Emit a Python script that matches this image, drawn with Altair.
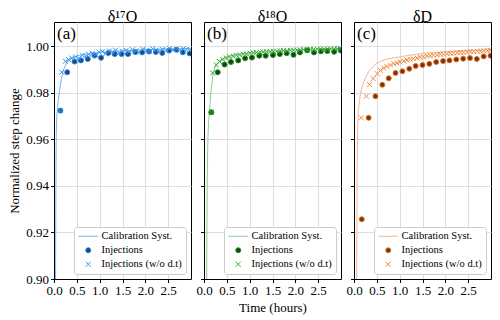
import altair as alt
import pandas as pd

FONT = "Liberation Serif"
SERIES = ["Calibration Syst.", "Injections", "Injections (w/o d.t)"]
TITLES = ["δ¹⁷O", "δ¹⁸O", "δD"]
TAGS = ["(a)", "(b)", "(c)"]
X_TICKS = [0.0, 0.5, 1.0, 1.5, 2.0, 2.5]
Y_TICKS = [0.90, 0.92, 0.94, 0.96, 0.98, 1.00]

LINE_COLORS = ["#78b8f0", "#8ccc8c", "#f4b690"]
EDGE_COLORS = ["#2f86d8", "#2a8a2a", "#e0742a"]
FILL_COLORS = ["#17457e", "#0b4a0b", "#7a3208"]
CROSS_COLORS = ["#3a98ee", "#3aaa3a", "#ef8a45"]

# Calibration system curves
cal_t_a = [0.030, 0.035, 0.040, 0.045, 0.050, 0.06, 0.08, 0.10, 0.13, 0.16, 0.20, 0.25, 0.30, 0.40, 0.50, 0.70, 1.0, 1.5, 2.0, 2.5, 3.0]
cal_v_a = [0.880, 0.905, 0.930, 0.950, 0.962, 0.970, 0.9745, 0.978, 0.982, 0.9857, 0.9895, 0.9920, 0.9935, 0.9950, 0.9958, 0.9967, 0.9975, 0.9982, 0.9986, 0.9989, 0.9991]
cal_t_b = [0.055, 0.06, 0.065, 0.07, 0.08, 0.09, 0.10, 0.12, 0.15, 0.20, 0.25, 0.30, 0.40, 0.50, 0.70, 1.0, 1.5, 2.0, 2.5, 3.0]
cal_v_b = [0.880, 0.905, 0.925, 0.940, 0.955, 0.963, 0.967, 0.972, 0.980, 0.9886, 0.9915, 0.9930, 0.9947, 0.9956, 0.9964, 0.9972, 0.9980, 0.9985, 0.9989, 0.9992]
cal_t_c = [0.055, 0.060, 0.065, 0.07, 0.08, 0.10, 0.13, 0.16, 0.20, 0.25, 0.33, 0.40, 0.50, 0.70, 1.0, 1.25, 1.5, 2.0, 2.5, 3.0]
cal_v_c = [0.880, 0.905, 0.930, 0.950, 0.965, 0.973, 0.978, 0.9814, 0.984, 0.9865, 0.9895, 0.991, 0.9928, 0.9945, 0.9955, 0.9963, 0.9970, 0.9977, 0.9982, 0.9986]

# Injections
inj_t_a = [0.14, 0.29, 0.45, 0.59, 0.74, 0.89, 1.03, 1.19, 1.33, 1.48, 1.62, 1.78, 1.93, 2.08, 2.23, 2.37, 2.52, 2.68, 2.82, 2.97]
inj_v_a = [0.9724, 0.9889, 0.9935, 0.9940, 0.9946, 0.9961, 0.9951, 0.9972, 0.9967, 0.9967, 0.9967, 0.9976, 0.9974, 0.9978, 0.9976, 0.9972, 0.9982, 0.9986, 0.9975, 0.9970]
inj_t_b = [0.16, 0.30, 0.45, 0.59, 0.75, 0.90, 1.05, 1.21, 1.35, 1.51, 1.66, 1.81, 1.96, 2.10, 2.26, 2.41, 2.56, 2.70, 2.85, 2.99]
inj_v_b = [0.9717, 0.9889, 0.9922, 0.9933, 0.9940, 0.9949, 0.9952, 0.9960, 0.9960, 0.9963, 0.9967, 0.9971, 0.9964, 0.9974, 0.9983, 0.9974, 0.9979, 0.9980, 0.9977, 0.9983]
inj_t_c = [0.17, 0.32, 0.47, 0.62, 0.76, 0.91, 1.06, 1.21, 1.35, 1.50, 1.65, 1.80, 1.95, 2.09, 2.24, 2.39, 2.54, 2.69, 2.84, 2.99]
inj_v_c = [0.9257, 0.9693, 0.9786, 0.9835, 0.9863, 0.9886, 0.9893, 0.9904, 0.9916, 0.9920, 0.9925, 0.9933, 0.9937, 0.9940, 0.9944, 0.9947, 0.9950, 0.9946, 0.9957, 0.9960]

# Injections without dead time
wo_t_a = [0.14, 0.17, 0.25, 0.32, 0.39, 0.47, 0.54, 0.62, 0.69, 0.76, 0.84, 0.91, 0.99, 1.06, 1.13, 1.21, 1.28, 1.35, 1.43, 1.50,
          1.58, 1.65, 1.72, 1.80, 1.87, 1.94, 2.02, 2.09, 2.16, 2.24, 2.31, 2.38, 2.46, 2.53, 2.61, 2.68, 2.75, 2.83, 2.90, 2.97]
wo_v_a = [0.9724, 0.9889, 0.9936, 0.9943, 0.9950, 0.9955, 0.9948, 0.9962, 0.9958, 0.9966, 0.9970, 0.9964, 0.9975, 0.9978, 0.9968, 0.9980, 0.9976, 0.9984, 0.9972, 0.9979,
          0.9983, 0.9977, 0.9986, 0.9981, 0.9975, 0.9988, 0.9983, 0.9979, 0.9990, 0.9984, 0.9980, 0.9987, 0.9983, 0.9991, 0.9985, 0.9988, 0.9982, 0.9990, 0.9986, 0.9984]
wo_t_b = [0.16, 0.19, 0.27, 0.34, 0.41, 0.49, 0.56, 0.64, 0.71, 0.78, 0.86, 0.93, 1.01, 1.08, 1.15, 1.23, 1.30, 1.37, 1.45, 1.52,
          1.60, 1.67, 1.74, 1.82, 1.89, 1.96, 2.04, 2.11, 2.18, 2.26, 2.33, 2.40, 2.48, 2.55, 2.63, 2.70, 2.77, 2.85, 2.92, 2.99]
wo_v_b = [0.9717, 0.9886, 0.9920, 0.9935, 0.9944, 0.9950, 0.9955, 0.9958, 0.9962, 0.9964, 0.9967, 0.9968, 0.9971, 0.9972, 0.9974, 0.9975, 0.9976, 0.9978, 0.9977, 0.9979,
          0.9980, 0.9981, 0.9982, 0.9981, 0.9983, 0.9984, 0.9984, 0.9985, 0.9986, 0.9985, 0.9987, 0.9987, 0.9988, 0.9988, 0.9989, 0.9988, 0.9989, 0.9990, 0.9990, 0.9990]
wo_t_c = [0.16, 0.27, 0.34, 0.42, 0.51, 0.58, 0.65, 0.72, 0.80, 0.87, 0.94, 1.01, 1.09, 1.16, 1.23, 1.30, 1.38, 1.45, 1.52, 1.60,
          1.67, 1.74, 1.82, 1.89, 1.96, 2.04, 2.11, 2.18, 2.26, 2.33, 2.40, 2.48, 2.55, 2.62, 2.70, 2.77, 2.84, 2.92, 2.98]
wo_v_c = [0.9693, 0.9786, 0.9836, 0.9862, 0.9883, 0.9897, 0.9907, 0.9914, 0.9920, 0.9926, 0.9929, 0.9933, 0.9937, 0.9942, 0.9944, 0.9947, 0.9950, 0.9953, 0.9955, 0.9958,
          0.9960, 0.9962, 0.9964, 0.9966, 0.9967, 0.9969, 0.9970, 0.9971, 0.9973, 0.9974, 0.9975, 0.9976, 0.9977, 0.9978, 0.9979, 0.9980, 0.9981, 0.9982, 0.9983]

CAL = [(cal_t_a, cal_v_a), (cal_t_b, cal_v_b), (cal_t_c, cal_v_c)]
INJ = [(inj_t_a, inj_v_a), (inj_t_b, inj_v_b), (inj_t_c, inj_v_c)]
WO = [(wo_t_a, wo_v_a), (wo_t_b, wo_v_b), (wo_t_c, wo_v_c)]

LINE_PATH = "M-4,0L4,0"
X_PATH = "M-1,-1L1,1M-1,1L1,-1"
W, H = 137, 257


def panel(i):
    cal = pd.DataFrame({"t": CAL[i][0], "v": CAL[i][1], "series": SERIES[0]})
    pts = pd.concat([
        pd.DataFrame({"t": INJ[i][0], "v": INJ[i][1], "series": SERIES[1]}),
        pd.DataFrame({"t": WO[i][0], "v": WO[i][1], "series": SERIES[2]}),
    ])
    xs = alt.Scale(domain=[0, 3.0], nice=False)
    ys = alt.Scale(domain=[0.90, 1.0105], nice=False, zero=False)
    xaxis = alt.Axis(values=X_TICKS, format=".1f", title="Time (hours)" if i == 1 else None,
                     titlePadding=4, labelOverlap=False, labelFlush=False)
    yaxis = alt.Axis(values=Y_TICKS, format=".2f", labels=(i == 0),
                     title="Normalized step change" if i == 0 else None, titlePadding=4)
    leg = alt.Legend(title=None, orient="bottom-right", offset=5, fillColor="white",
                     strokeColor="#cccccc", cornerRadius=3, padding=4,
                     labelFont=FONT, labelFontSize=10.5, labelColor="black",
                     rowPadding=3, symbolOffset=5, labelOffset=8,
                     symbolSize=25, symbolStrokeWidth=1, labelLimit=200)
    stroke_s = alt.Scale(domain=SERIES, range=[LINE_COLORS[i], EDGE_COLORS[i], CROSS_COLORS[i]])
    fill_s = alt.Scale(domain=SERIES, range=["transparent", FILL_COLORS[i], "transparent"])
    shape_s = alt.Scale(domain=SERIES, range=[LINE_PATH, "circle", X_PATH])
    x = alt.X("t:Q", scale=xs, axis=xaxis)
    y = alt.Y("v:Q", scale=ys, axis=yaxis)
    line = alt.Chart(cal).mark_line(strokeWidth=1, clip=True).encode(
        x=x, y=y, stroke=alt.Stroke("series:N", scale=stroke_s, legend=leg))
    points = alt.Chart(pts).mark_point(size=25, strokeWidth=1, opacity=1, clip=True).encode(
        x=x, y=y,
        stroke=alt.Stroke("series:N", scale=stroke_s, legend=leg),
        fill=alt.Fill("series:N", scale=fill_s, legend=leg),
        shape=alt.Shape("series:N", scale=shape_s, legend=leg),
    )
    tag = alt.Chart(pd.DataFrame({"tag": [TAGS[i]]})).mark_text(
        font=FONT, fontSize=17, align="left", baseline="top", color="black"
    ).encode(text="tag:N", x=alt.value(3), y=alt.value(4))
    return alt.layer(line, points, tag).properties(
        width=W, height=H,
        title=alt.TitleParams(TITLES[i], font=FONT, fontSize=16, fontWeight="normal",
                              color="black", offset=-2.5),
    )


chart = alt.hconcat(panel(0), panel(1), panel(2), spacing=13, bounds="flush").resolve_scale(
    stroke="independent", fill="independent", shape="independent"
).resolve_legend(
    stroke="independent", fill="independent", shape="independent"
).properties(
    padding={"left": 0, "top": 0, "right": 0, "bottom": 0}
).configure_axis(
    labelFont=FONT, titleFont=FONT, labelFontSize=13, titleFontSize=13,
    titleFontWeight="normal", labelColor="black", titleColor="black",
    domainColor="black", tickColor="black", tickSize=3.5, labelPadding=2,
    gridColor="#dddddd", gridWidth=1,
).configure_view(stroke="black", strokeWidth=1)

chart.save("out.html", embed_options={"renderer": "svg", "actions": False})
